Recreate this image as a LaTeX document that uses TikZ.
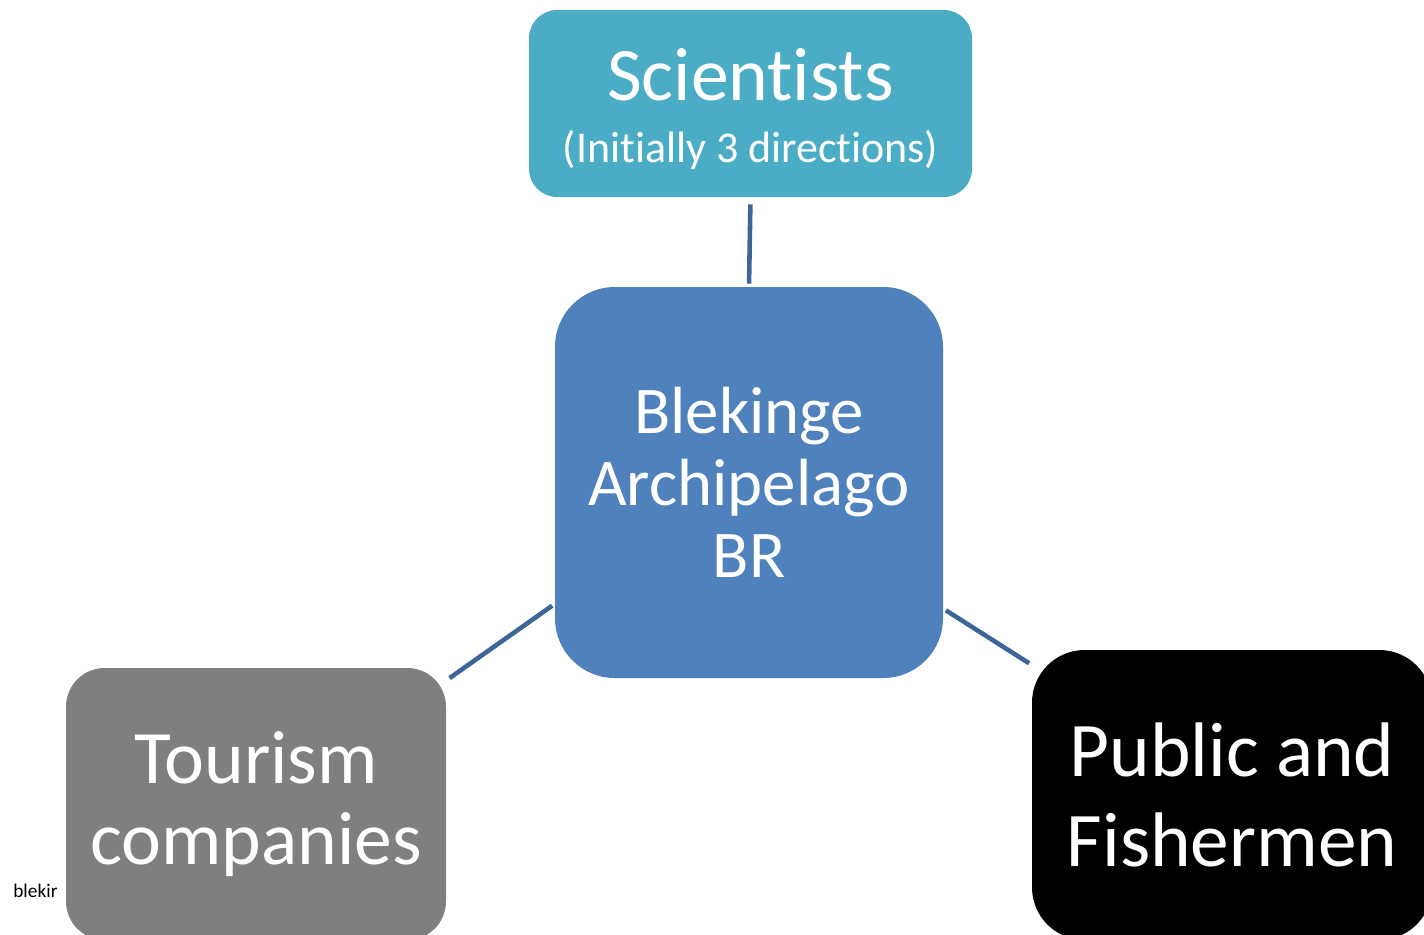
\documentclass[tikz,border=0pt]{standalone}
\usepackage{fontspec}
\setmainfont[Ligatures=NoCommon]{Carlito}
\definecolor{sciblue}{HTML}{4BACC6}
\definecolor{midblue}{HTML}{4F81BD}
\definecolor{linkblue}{HTML}{3D6598}
\definecolor{tourgray}{HTML}{7F7F7F}

\begin{document}
\begin{tikzpicture}[x=0.02cm,y=-0.02cm,
    box/.style={rounded corners=#1,inner sep=0pt,text=white,align=center},
    link/.style={draw=linkblue,line width=2.6pt}]
     \useasboundingbox (0,0) rectangle (1424,934);
     % the four groups
     \node[box=16pt,fill=sciblue,minimum width=443*0.02cm,minimum height=187*0.02cm]
       (sci) at (750.5,103.5) {\fontsize{43}{36}\selectfont\rule{0pt}{36pt}Scientists\\[16pt]
       \fontsize{25}{36}\selectfont (Initially 3 directions)};
     \node[box=34pt,fill=midblue,minimum width=388*0.02cm,minimum height=391*0.02cm,
       font=\fontsize{38}{41}\selectfont] (ctr) at (749,482.5) {Blekinge\\Archipelago\\BR};
     \node[box=22pt,fill=tourgray,minimum width=380*0.02cm,minimum height=272*0.02cm,
       font=\fontsize{43}{46}\selectfont] (tour) at (256,804) {Tourism\\companies};
     \node[box=30pt,fill=black,minimum width=400*0.02cm,minimum height=290*0.02cm,
       font=\fontsize{44}{47}\selectfont] (pub) at (1232,795) {\raisebox{4pt}{Public and}\\Fishermen};
     \node[anchor=base west,inner sep=0pt,font=\fontsize{11}{12}\selectfont] (tag) at (13,897) {blekir};
     % links to the centre
     \draw[link,shorten <=7*0.02cm,shorten >=3*0.02cm] (sci.south) -- (ctr.north);
     \draw[link,shorten <=3*0.02cm,shorten >=4*0.02cm] (ctr.212) -- (tour.33);
     \draw[link,shorten <=3*0.02cm,shorten >=3*0.02cm] (ctr.-33) -- (pub.147);
\end{tikzpicture}
\end{document}
